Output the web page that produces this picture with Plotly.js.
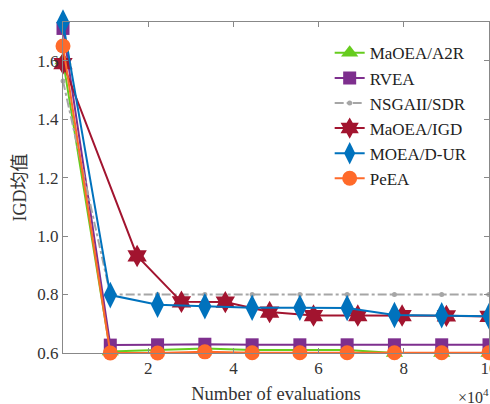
<!DOCTYPE html>
<html><head><meta charset="utf-8">
<script src="https://cdn.plot.ly/plotly-3.0.1.min.js"></script>
<style>html,body{margin:0;padding:0;background:#fff}#plot{width:490px;height:404px}</style>
</head><body><div id="plot"></div>
<script>
// x in units of 10^4 evaluations
const evals = [0, 1.11, 2.22, 3.33, 4.44, 5.56, 6.67, 7.78, 8.89, 10.0];
const evalsIGD = [0, 1.74, 2.78, 3.81, 4.85, 5.88, 6.92, 7.96, 9.0, 10.0];
const names = ['MaOEA/A2R', 'RVEA', 'NSGAII/SDR', 'MaOEA/IGD', 'MOEA/D-UR', 'PeEA'];
const a2r   = [1.60, 0.605, 0.610, 0.615, 0.610, 0.610, 0.610, 0.600, 0.600, 0.600];
const rvea  = [1.71, 0.627, 0.628, 0.630, 0.628, 0.628, 0.628, 0.628, 0.628, 0.628];
const nsga  = [1.53, 0.800, 0.800, 0.800, 0.800, 0.800, 0.800, 0.800, 0.800, 0.800];
const igd   = [1.59, 0.932, 0.775, 0.774, 0.740, 0.728, 0.728, 0.728, 0.727, 0.725];
const moead = [1.73, 0.798, 0.765, 0.760, 0.755, 0.755, 0.754, 0.730, 0.729, 0.726];
const peea  = [1.65, 0.600, 0.600, 0.604, 0.601, 0.601, 0.601, 0.601, 0.601, 0.601];

function tr(x, y, name, color, symbol, size, dash) {
  return {x: x, y: y, name: name, type: 'scatter', mode: 'lines+markers', cliponaxis: false,
    line: {color: color, width: 2, dash: dash || 'solid'},
    marker: {color: color, symbol: symbol, size: size, line: {width: 0}}};
}
const data = [
  tr(evals, a2r, names[0], '#66CC1E', 'triangle-up', 15),
  tr(evals, rvea, names[1], '#7E2F8E', 'square', 13),
  tr(evals, nsga, names[2], '#A6A6A6', 'circle', 5, 'dashdot'),
  tr(evalsIGD, igd, names[3], '#A2142F', 'hexagram', 17),
  tr(evals, moead, names[4], '#0072BD', 'diamond-tall', 19),
  tr(evals, peea, names[5], '#FF6A2A', 'circle', 15)
];
const fam = 'Times New Roman, Liberation Serif, DejaVu Serif, Noto Sans CJK SC';
const font = {family: fam, size: 17, color: '#333'};
const layout = {
  width: 490, height: 404,
  margin: {l: 63, r: 1, t: 22, b: 51},
  paper_bgcolor: '#fff', plot_bgcolor: '#fff',
  font: font,
  showlegend: true,
  legend: {x: 0.626, y: 0.96, xanchor: 'left', yanchor: 'top', bgcolor: 'rgba(255,255,255,0)',
    font: {family: fam, size: 17, color: '#222'}, tracegroupgap: 0},
  xaxis: {range: [0, 10], tickvals: [2, 4, 6, 8, 10], ticktext: ['2', '4', '6', '8', '10'],
    ticklabeloverflow: 'allow',
    showgrid: false, zeroline: false, showline: true, linecolor: '#888', linewidth: 1,
    mirror: 'ticks', ticks: 'inside', ticklen: 5, tickcolor: '#888',
    title: {text: 'Number of evaluations', font: {family: fam, size: 18.5, color: '#333'}, standoff: 10},
    tickfont: {family: fam, size: 17, color: '#333'}},
  yaxis: {range: [0.6, 1.732], tickvals: [0.6, 0.8, 1.0, 1.2, 1.4, 1.6], tickformat: '.1f',
    showgrid: false, zeroline: false, showline: true, linecolor: '#888', linewidth: 1,
    mirror: 'ticks', ticks: 'inside', ticklen: 5, tickcolor: '#888',
    title: {text: 'IGD均值', font: {family: fam, size: 18, color: '#333'}, standoff: 6},
    tickfont: {family: fam, size: 17, color: '#333'}},
  annotations: [{xref: 'paper', yref: 'paper', x: 1.005, y: -0.13, xanchor: 'right', yanchor: 'middle',
    showarrow: false, text: '×10<sup>4</sup>', font: {family: fam, size: 16, color: '#333'}}]
};
Plotly.newPlot('plot', data, layout, {displayModeBar: false, staticPlot: true});
</script></body></html>
